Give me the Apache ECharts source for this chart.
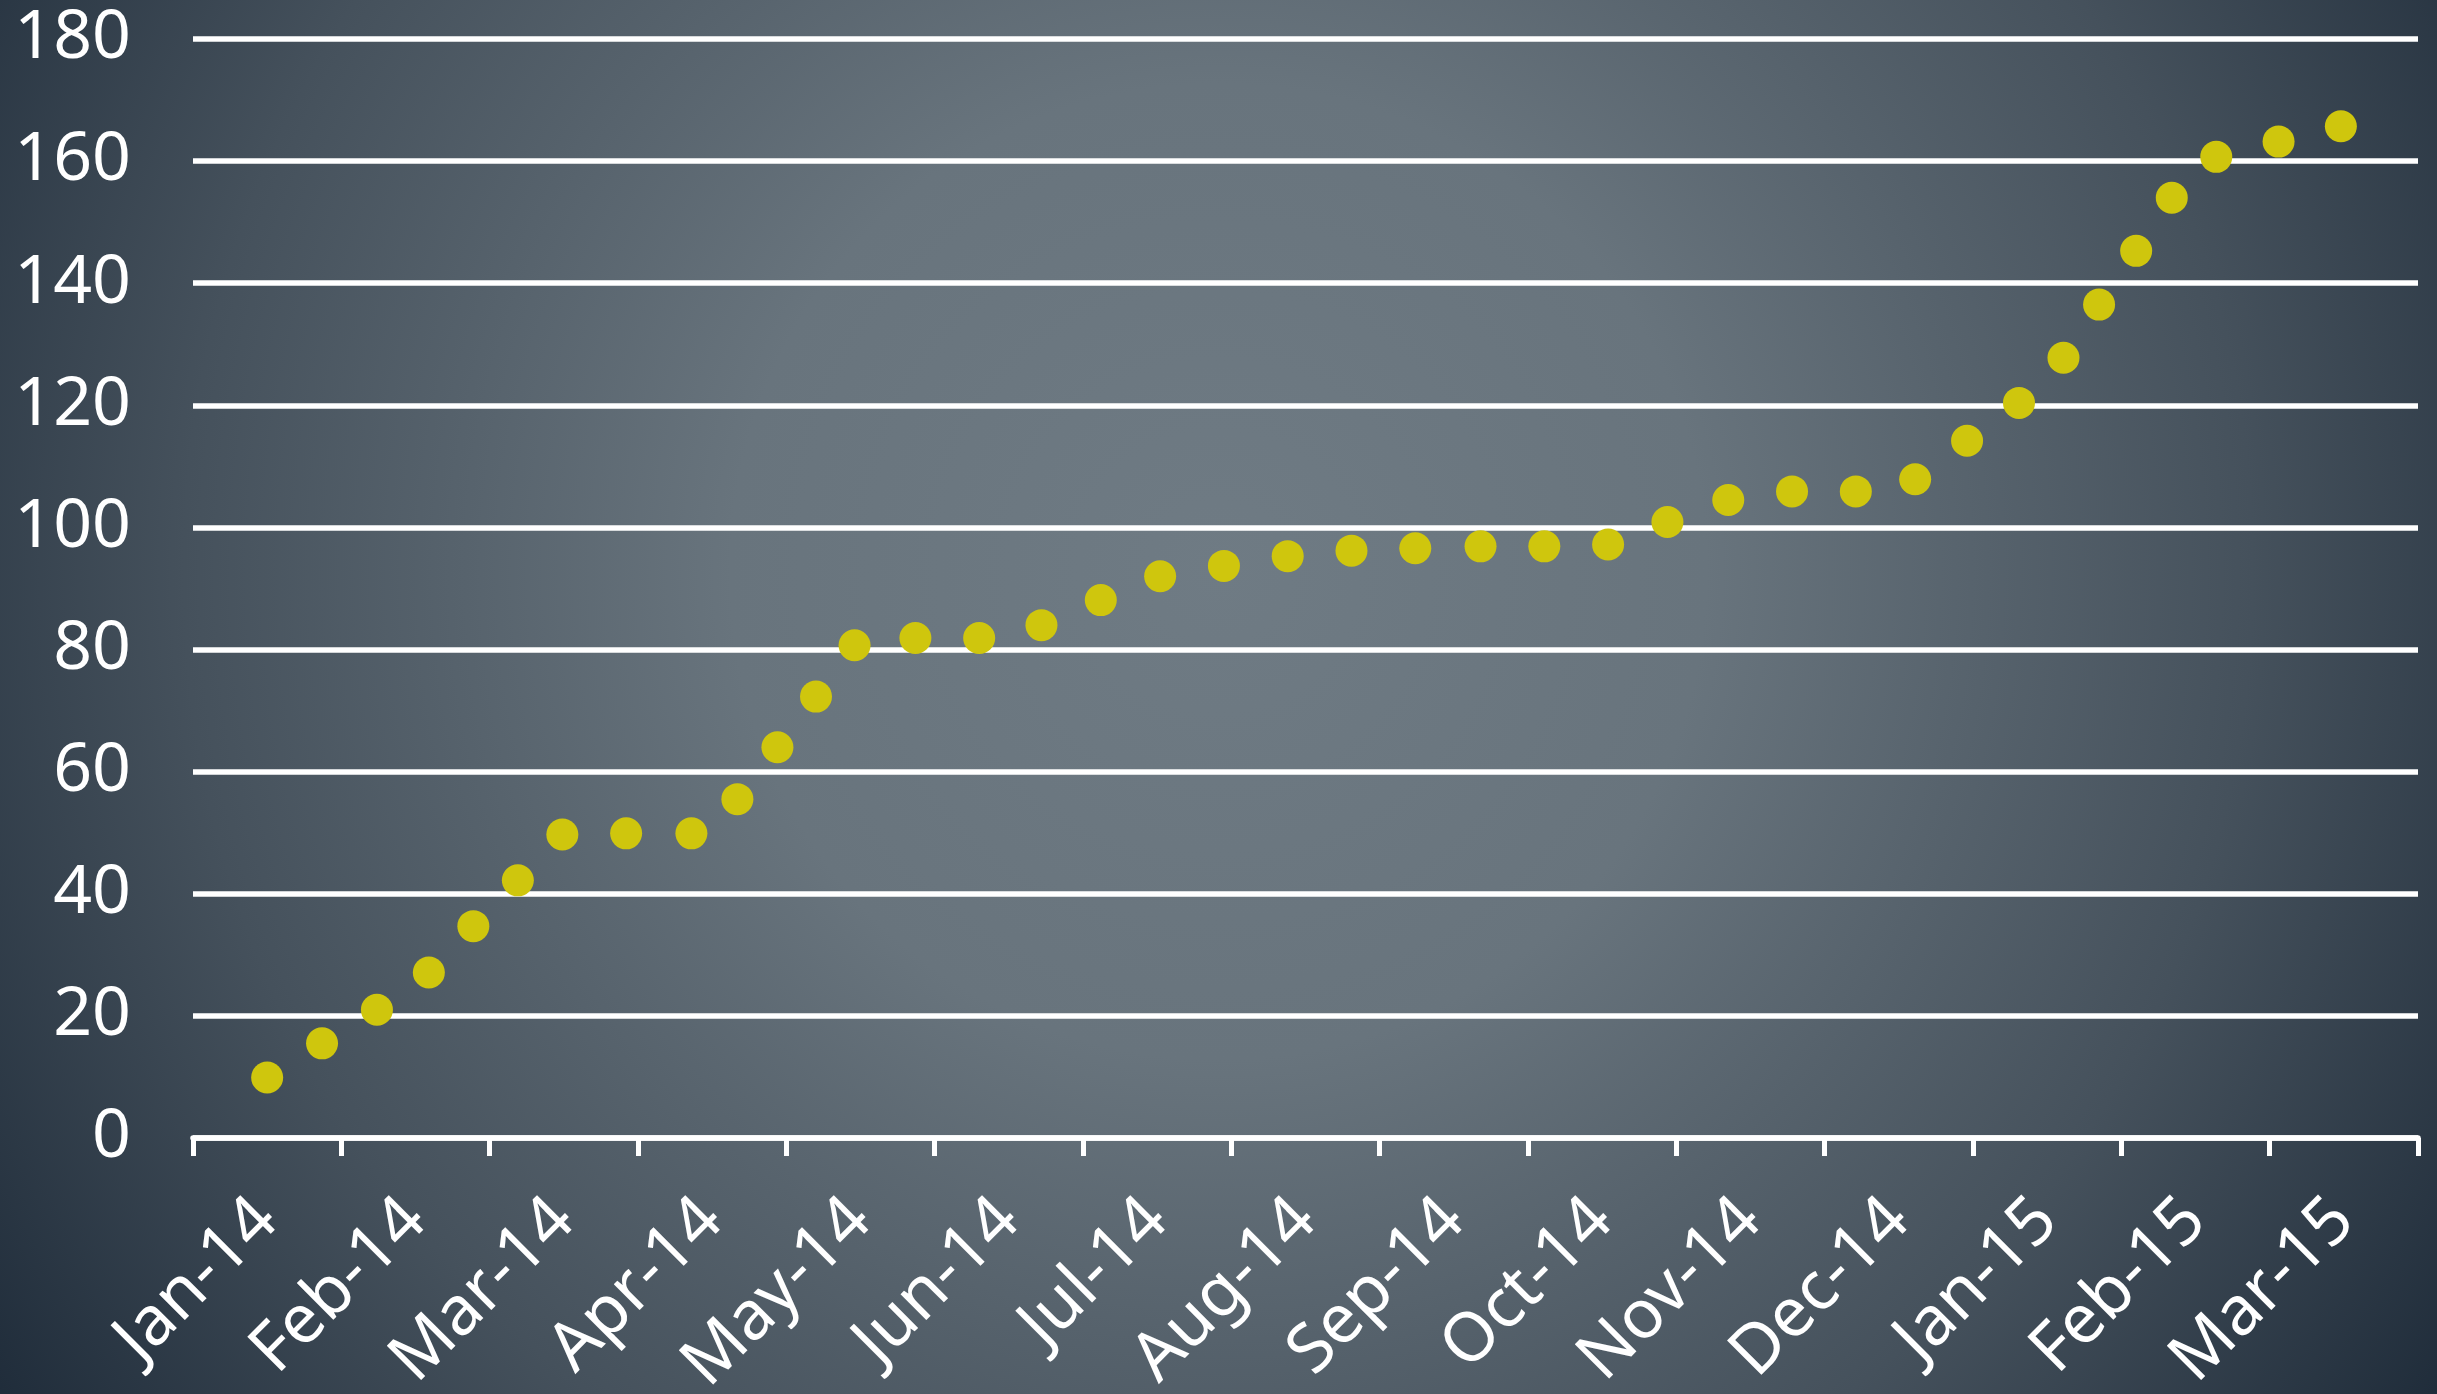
<!DOCTYPE html>
<html>
<head>
<meta charset="utf-8">
<script src="https://cdn.jsdelivr.net/npm/echarts@6/dist/echarts.min.js"></script>
<style>
html,body{margin:0;padding:0;width:100%;height:100%;overflow:hidden;background:#1f2c3a;}
#chart{width:2437px;height:1394px;}
</style>
</head>
<body>
<div id="chart"></div>
<script>
// Month labels on the category axis
const monthLabels = ['Jan-14','Feb-14','Mar-14','Apr-14','May-14','Jun-14','Jul-14','Aug-14','Sep-14','Oct-14','Nov-14','Dec-14','Jan-15','Feb-15','Mar-15'];
// Point positions in months since 1 Jan 2014
const monthPos = [0.50,0.87,1.24,1.59,1.89,2.19,2.49,2.92,3.36,3.67,3.94,4.20,4.46,4.87,5.30,5.72,6.12,6.52,6.95,7.38,7.81,8.24,8.68,9.11,9.54,9.94,10.35,10.78,11.21,11.61,11.96,12.31,12.61,12.85,13.10,13.34,13.64,14.06,14.48];
// Values
const values = [9.9,15.5,21.0,27.1,34.7,42.2,49.7,49.9,49.9,55.5,64.0,72.3,80.7,81.9,81.9,84.0,88.1,92.0,93.7,95.3,96.2,96.6,96.9,96.9,97.2,100.9,104.5,105.9,105.9,107.9,114.2,120.4,127.8,136.5,145.3,154.0,160.7,163.2,165.7];
// Y axis ticks
const yMin = 0, yMax = 180, yStep = 20;

const points = monthPos.map((m, i) => [m, values[i]]);
const font = 'Noto Sans';

const chart = echarts.init(document.getElementById('chart'), null, {renderer: 'canvas'});
chart.setOption({
  animation: false,
  backgroundColor: new echarts.graphic.RadialGradient(0.5, 0.41, 1.06, [
    {offset: 0, color: '#6f7b84'},
    {offset: 0.33, color: '#68747d'},
    {offset: 0.7, color: '#45515c'},
    {offset: 1, color: '#1f2c3a'}
  ]),
  grid: {left: 193, right: 19, top: 39, bottom: 256, containLabel: false, outerBoundsMode: 'none'},
  xAxis: [
    {
      type: 'category',
      data: monthLabels,
      boundaryGap: true,
      axisLine: {show: true, lineStyle: {color: '#ffffff', width: 5.5}},
      axisTick: {show: true, alignWithLabel: false, length: 18, lineStyle: {color: '#ffffff', width: 5}},
      axisLabel: {color: '#ffffff', fontSize: 68, fontFamily: font, rotate: 45, margin: 72, interval: 0},
      splitLine: {show: false}
    },
    {
      type: 'value',
      min: 0, max: monthLabels.length,
      show: false,
      splitLine: {show: false}
    }
  ],
  yAxis: {
    type: 'value',
    min: yMin, max: yMax, interval: yStep,
    axisLine: {show: false},
    axisTick: {show: false},
    axisLabel: {color: '#ffffff', fontSize: 68, fontFamily: font, margin: 62},
    splitLine: {show: true, lineStyle: {color: '#ffffff', width: 5.5}}
  },
  series: [{
    type: 'scatter',
    xAxisIndex: 1,
    yAxisIndex: 0,
    data: points,
    symbol: 'circle',
    symbolSize: 32,
    itemStyle: {color: '#cfc60d', opacity: 1},
    z: 5
  }]
});
</script>
</body>
</html>
